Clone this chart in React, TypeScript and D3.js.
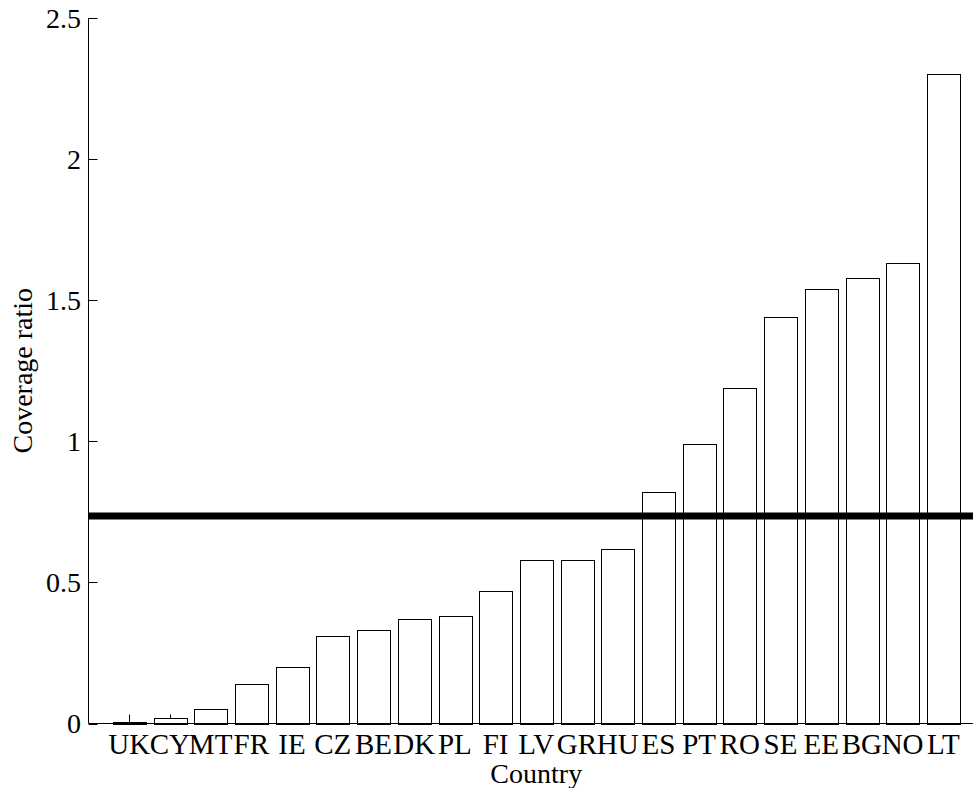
import React from "react";
import * as d3 from "d3";

const countries = ["UK", "CY", "MT", "FR", "IE", "CZ", "BE", "DK", "PL", "FI", "LV", "GR", "HU", "ES", "PT", "RO", "SE", "EE", "BG", "NO", "LT"];
const coverage = [0.004, 0.018, 0.05, 0.14, 0.2, 0.31, 0.33, 0.37, 0.38, 0.47, 0.58, 0.58, 0.62, 0.82, 0.99, 1.19, 1.44, 1.54, 1.58, 1.63, 2.3];
const referenceLevel = 0.735;
const yTicks = [0, 0.5, 1, 1.5, 2, 2.5];
const yTickLabels = ["0", "0.5", "1", "1.5", "2", "2.5"];

const W = 973;
const H = 788;
const FONT = "'Liberation Serif', 'Times New Roman', serif";

export default function App() {
  const x = d3.scaleLinear().domain([0, countries.length + 1]).range([88.5, 984]);
  const y = d3.scaleLinear().domain([0, 2.5]).range([723.5, 17.9]);
  const barW = x(0.8) - x(0);
  const tickLen = 9;

  return (
    <svg
      width={W}
      height={H}
      viewBox={`0 0 ${W} ${H}`}
      style={{ position: "absolute", left: 0, top: 0, background: "#fff" }}
    >
      <rect x={0} y={0} width={W} height={H} fill="#fff" />

      {/* x ticks (drawn under the bars) */}
      {countries.map((c, i) => (
        <line
          key={"xt" + c}
          x1={Math.round(x(i + 1)) + 0.5}
          x2={Math.round(x(i + 1)) + 0.5}
          y1={y(0)}
          y2={y(0) - tickLen}
          stroke="#000"
          strokeWidth={1}
        />
      ))}

      {/* bars */}
      {coverage.map((v, i) => (
        <rect
          key={"b" + countries[i]}
          x={Math.round(x(i + 1) - barW / 2) + 0.5}
          y={Math.round(y(v)) + 0.5}
          width={Math.round(barW)}
          height={Math.max(0, Math.round(y(0)) - Math.round(y(v)))}
          fill="#fff"
          stroke="#000"
          strokeWidth={1}
        />
      ))}

      {/* axes */}
      <line x1={88.5} x2={88.5} y1={y(2.5)} y2={y(0)} stroke="#000" strokeWidth={1} />
      <line x1={88.5} x2={984} y1={y(0)} y2={y(0)} stroke="#000" strokeWidth={1} />

      {yTicks.map((t, i) => (
        <g key={"yt" + t}>
          <line x1={88.5} x2={88.5 + tickLen} y1={Math.round(y(t)) + 0.5} y2={Math.round(y(t)) + 0.5} stroke="#000" strokeWidth={1} />
          <text
            x={81}
            y={y(t)}
            dy="0.35em"
            textAnchor="end"
            fontFamily={FONT}
            fontSize={28}
            fill="#000"
          >
            {yTickLabels[i]}
          </text>
        </g>
      ))}

      {countries.map((c, i) => (
        <text
          key={"xl" + c}
          x={x(i + 1)}
          y={754}
          textAnchor="middle"
          fontFamily={FONT}
          fontSize={29}
          fill="#000"
        >
          {c}
        </text>
      ))}

      {/* reference level */}
      <line
        x1={88.5}
        x2={984}
        y1={y(referenceLevel)}
        y2={y(referenceLevel)}
        stroke="#000"
        strokeWidth={7}
      />

      <text
        x={(88.5 + 984) / 2}
        y={783}
        textAnchor="middle"
        fontFamily={FONT}
        fontSize={28}
        fill="#000"
      >
        Country
      </text>
      <text
        transform={`translate(32, ${(y(0) + y(2.5)) / 2}) rotate(-90)`}
        textAnchor="middle"
        fontFamily={FONT}
        fontSize={28}
        fill="#000"
      >
        Coverage ratio
      </text>
    </svg>
  );
}
